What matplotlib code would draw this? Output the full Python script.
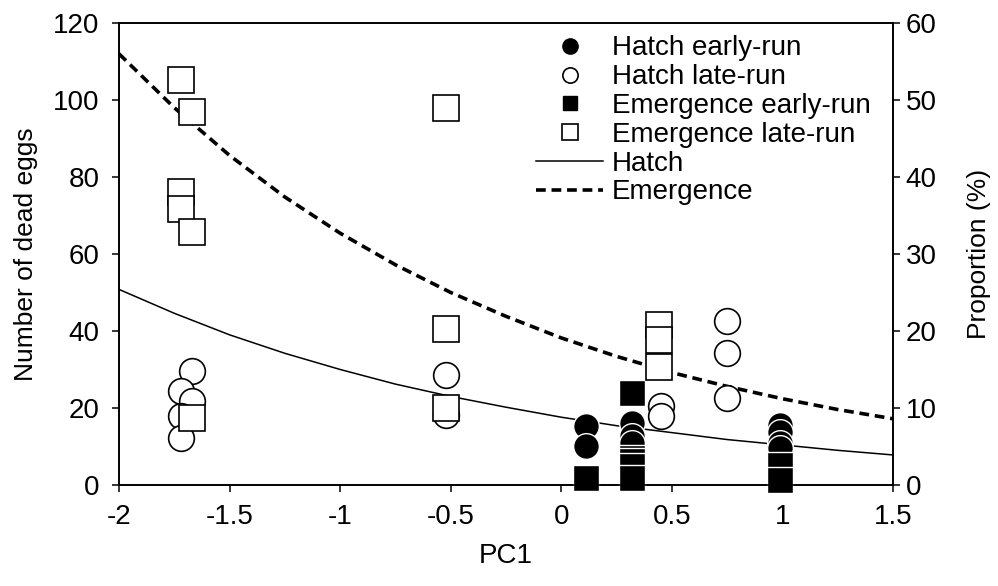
import matplotlib
matplotlib.use("Agg")
import matplotlib.pyplot as plt
from matplotlib.lines import Line2D

plt.rcParams["font.family"] = ["Liberation Sans", "DejaVu Sans"]

# scatter data: PC1 vs number of dead eggs
hatch_early_x = [0.11, 0.11, 0.32, 0.32, 0.32, 0.99, 0.99, 0.99, 0.99]
hatch_early_y = [15.4, 10.0, 16.0, 12.6, 10.8, 15.6, 13.8, 10.8, 9.5]

hatch_late_x = [-1.67, -1.72, -1.67, -1.72, -1.72, -0.52, -0.52, 0.45, 0.45, 0.75, 0.75, 0.75]
hatch_late_y = [29.5, 24.5, 21.7, 17.8, 12.2, 28.6, 18.2, 20.4, 17.8, 42.5, 34.4, 22.6]

emerg_early_x = [0.11, 0.32, 0.32, 0.32, 0.32, 0.32, 0.99, 0.99]
emerg_early_y = [1.8, 24.0, 6.9, 6.1, 4.8, 1.7, 5.2, 1.4]

emerg_late_x = [-1.72, -1.67, -1.72, -1.72, -1.67, -1.67, -0.52, -0.52, -0.52, 0.44, 0.44, 0.44]
emerg_late_y = [105.2, 97.0, 76.2, 71.6, 65.7, 17.4, 98.0, 40.5, 20.0, 41.6, 37.7, 30.6]

# fitted proportions (%), right axis
fit_x = [-2.0, -1.75, -1.5, -1.25, -1.0, -0.75, -0.5, -0.25, 0.0, 0.25, 0.5, 0.75, 1.0, 1.25, 1.5]
hatch_fit = [25.4, 22.3, 19.5, 17.1, 15.0, 13.1, 11.5, 10.1, 8.8, 7.7, 6.8, 5.9, 5.2, 4.5, 3.9]
emerg_fit = [56.0, 49.0, 42.8, 37.4, 32.7, 28.6, 25.0, 21.9, 19.1, 16.7, 14.6, 12.8, 11.2, 9.8, 8.6]

FS = 20
DASH = (0, (2.7, 1.6))

fig = plt.figure(figsize=(9.98, 5.86), dpi=100)
ax = fig.add_axes([0.1192, 0.1724, 0.7756, 0.7884])
ax2 = ax.twinx()

ms = 18.5
ax2.plot(fit_x, hatch_fit, color="black", lw=1.1, zorder=1)
ax2.plot(fit_x, emerg_fit, color="black", lw=2.6, ls=DASH, zorder=1)

ax.set_zorder(ax2.get_zorder() + 1)
ax.patch.set_visible(False)

ax.plot(hatch_early_x, hatch_early_y, "o", ms=ms, mfc="black", mec="white", mew=1.0, clip_on=False)
ax.plot(hatch_late_x, hatch_late_y, "o", ms=ms, mfc="white", mec="black", mew=1.2, clip_on=False)
ax.plot(emerg_early_x, emerg_early_y, "s", ms=ms, mfc="black", mec="white", mew=1.0, clip_on=False)
ax.plot(emerg_late_x, emerg_late_y, "s", ms=ms, mfc="white", mec="black", mew=1.2, clip_on=False)

ax.set_xlim(-2, 1.5)
ax.set_ylim(0, 120)
ax2.set_ylim(0, 60)
ax.set_xticks([-2, -1.5, -1, -0.5, 0, 0.5, 1, 1.5])
ax.set_xticklabels(["-2", "-1.5", "-1", "-0.5", "0", "0.5", "1", "1.5"])
ax.set_yticks(range(0, 121, 20))
ax2.set_yticks(range(0, 61, 10))

for a in (ax, ax2):
    for s in a.spines.values():
        s.set_linewidth(1.2)
ax.tick_params(axis="x", direction="out", length=5, width=1.1, labelsize=FS, pad=9)
ax.tick_params(axis="y", direction="out", length=5, width=1.1, labelsize=FS, pad=9)
ax2.tick_params(axis="y", direction="out", length=5, width=1.1, labelsize=FS, pad=4)

ax.set_xlabel("PC1", fontsize=FS, labelpad=9)
ax.set_ylabel("Number of dead eggs", fontsize=19, labelpad=11)
ax2.set_ylabel("Proportion (%)", fontsize=19, labelpad=22)

handles = [
    Line2D([], [], ls="none", marker="o", ms=11, mfc="black", mec="black"),
    Line2D([], [], ls="none", marker="o", ms=11, mfc="white", mec="black", mew=1.2),
    Line2D([], [], ls="none", marker="s", ms=10, mfc="black", mec="black"),
    Line2D([], [], ls="none", marker="s", ms=11, mfc="white", mec="black", mew=1.2),
    Line2D([], [], color="black", lw=1.1),
    Line2D([], [], color="black", lw=2.6, ls=DASH),
]
labels = ["Hatch early-run", "Hatch late-run", "Emergence early-run",
          "Emergence late-run", "Hatch", "Emergence"]
ax.legend(handles, labels, loc="upper left", bbox_to_anchor=(0.539, 0.973),
          frameon=False, fontsize=FS, handlelength=2.4, handletextpad=0.32,
          labelspacing=0.1, borderpad=0, borderaxespad=0)

fig.savefig("out.png", dpi=100)
